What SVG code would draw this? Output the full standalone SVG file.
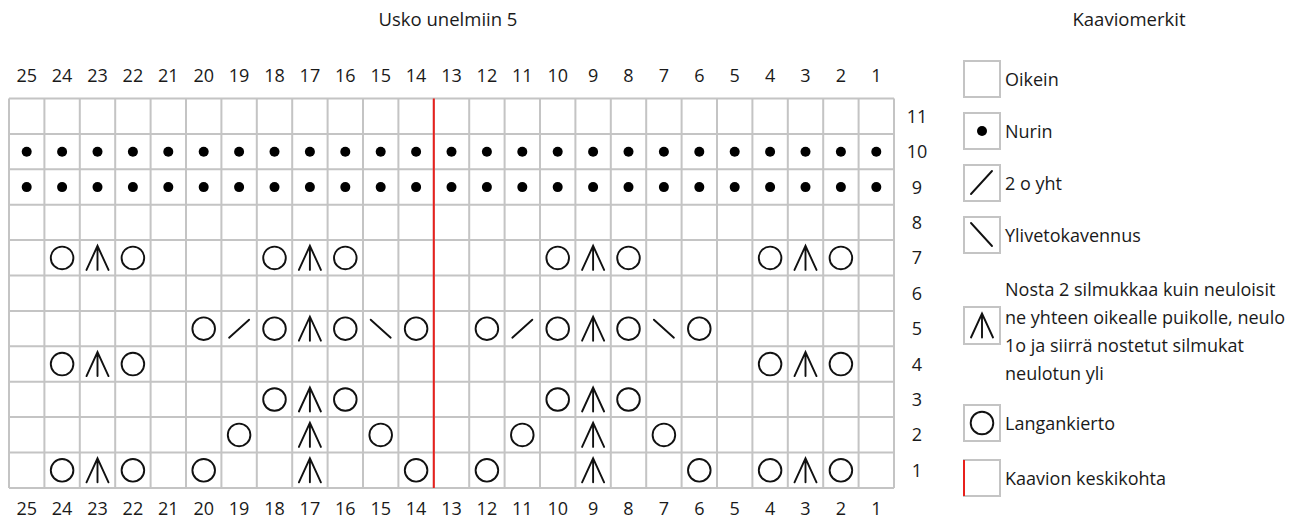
<svg xmlns="http://www.w3.org/2000/svg" xmlns:xlink="http://www.w3.org/1999/xlink" width="1308" height="519" viewBox="0 0 1308 519">
<style>
text{font-family:"Open Sans","Noto Sans","Liberation Sans",sans-serif;font-size:18px;fill:#1a1a1a}
.c{text-anchor:middle}
.t{font-size:18.5px}
.g{stroke:#c4c4c4;stroke-width:2;fill:none}
.s{stroke:#111;stroke-width:1.9;fill:none;stroke-linecap:round}
.red{stroke:#e8201c;stroke-width:2}
</style>
<defs>
<g id="o"><circle class="s" cx="0" cy="0" r="11.3"/></g>
<g id="a"><path class="s" d="M-11,12 L0,-12 L11,12 M0,-12 L0,12"/></g>
<g id="d"><circle cx="0" cy="0" r="5" fill="#000"/></g>
<g id="k"><path class="s" d="M-10,9 L10,-9"/></g>
<g id="y"><path class="s" d="M-10,-9 L10,9"/></g>
</defs>
<g id="titles">
<text class="c t" x="448" y="26">Usko unelmiin 5</text>
<text class="c t" x="1129" y="26">Kaaviomerkit</text>
</g>
<g id="grid">
<path class="g" d="M9,98.5V488M44.4,98.5V488M79.8,98.5V488M115.2,98.5V488M150.6,98.5V488M186,98.5V488M221.4,98.5V488M256.8,98.5V488M292.2,98.5V488M327.6,98.5V488M363,98.5V488M398.4,98.5V488M433.8,98.5V488M469.2,98.5V488M504.6,98.5V488M540,98.5V488M575.4,98.5V488M610.8,98.5V488M646.2,98.5V488M681.6,98.5V488M717,98.5V488M752.4,98.5V488M787.8,98.5V488M823.2,98.5V488M858.6,98.5V488M894,98.5V488"/>
<path class="g" d="M9,98.5H894M9,133.9H894M9,169.3H894M9,204.7H894M9,240.1H894M9,275.5H894M9,310.9H894M9,346.3H894M9,381.7H894M9,417.1H894M9,452.5H894M9,487.9H894"/>
<line class="red" x1="433.8" y1="98.5" x2="433.8" y2="488"/>
</g>
<g id="colnums-top">
<text class="c" x="26.7" y="81.5">25</text><text class="c" x="62.1" y="81.5">24</text><text class="c" x="97.5" y="81.5">23</text><text class="c" x="132.9" y="81.5">22</text><text class="c" x="168.3" y="81.5">21</text><text class="c" x="203.7" y="81.5">20</text><text class="c" x="239.1" y="81.5">19</text><text class="c" x="274.5" y="81.5">18</text><text class="c" x="309.9" y="81.5">17</text><text class="c" x="345.3" y="81.5">16</text><text class="c" x="380.7" y="81.5">15</text><text class="c" x="416.1" y="81.5">14</text><text class="c" x="451.5" y="81.5">13</text><text class="c" x="486.9" y="81.5">12</text><text class="c" x="522.3" y="81.5">11</text><text class="c" x="557.7" y="81.5">10</text><text class="c" x="593.1" y="81.5">9</text><text class="c" x="628.5" y="81.5">8</text><text class="c" x="663.9" y="81.5">7</text><text class="c" x="699.3" y="81.5">6</text><text class="c" x="734.7" y="81.5">5</text><text class="c" x="770.1" y="81.5">4</text><text class="c" x="805.5" y="81.5">3</text><text class="c" x="840.9" y="81.5">2</text><text class="c" x="876.3" y="81.5">1</text>
</g>
<g id="colnums-bottom">
<text class="c" x="26.7" y="514.5">25</text><text class="c" x="62.1" y="514.5">24</text><text class="c" x="97.5" y="514.5">23</text><text class="c" x="132.9" y="514.5">22</text><text class="c" x="168.3" y="514.5">21</text><text class="c" x="203.7" y="514.5">20</text><text class="c" x="239.1" y="514.5">19</text><text class="c" x="274.5" y="514.5">18</text><text class="c" x="309.9" y="514.5">17</text><text class="c" x="345.3" y="514.5">16</text><text class="c" x="380.7" y="514.5">15</text><text class="c" x="416.1" y="514.5">14</text><text class="c" x="451.5" y="514.5">13</text><text class="c" x="486.9" y="514.5">12</text><text class="c" x="522.3" y="514.5">11</text><text class="c" x="557.7" y="514.5">10</text><text class="c" x="593.1" y="514.5">9</text><text class="c" x="628.5" y="514.5">8</text><text class="c" x="663.9" y="514.5">7</text><text class="c" x="699.3" y="514.5">6</text><text class="c" x="734.7" y="514.5">5</text><text class="c" x="770.1" y="514.5">4</text><text class="c" x="805.5" y="514.5">3</text><text class="c" x="840.9" y="514.5">2</text><text class="c" x="876.3" y="514.5">1</text>
</g>
<g id="rownums">
<text class="c" x="917" y="476.8">1</text><text class="c" x="917" y="441.4">2</text><text class="c" x="917" y="406">3</text><text class="c" x="917" y="370.6">4</text><text class="c" x="917" y="335.2">5</text><text class="c" x="917" y="299.8">6</text><text class="c" x="917" y="264.4">7</text><text class="c" x="917" y="229">8</text><text class="c" x="917" y="193.6">9</text><text class="c" x="917" y="158.2">10</text><text class="c" x="917" y="122.8">11</text>
</g>
<g id="row10">
<use href="#d" x="26.7" y="151.7"/><use href="#d" x="62.1" y="151.7"/><use href="#d" x="97.5" y="151.7"/><use href="#d" x="132.9" y="151.7"/><use href="#d" x="168.3" y="151.7"/><use href="#d" x="203.7" y="151.7"/><use href="#d" x="239.1" y="151.7"/><use href="#d" x="274.5" y="151.7"/><use href="#d" x="309.9" y="151.7"/><use href="#d" x="345.3" y="151.7"/><use href="#d" x="380.7" y="151.7"/><use href="#d" x="416.1" y="151.7"/><use href="#d" x="451.5" y="151.7"/><use href="#d" x="486.9" y="151.7"/><use href="#d" x="522.3" y="151.7"/><use href="#d" x="557.7" y="151.7"/><use href="#d" x="593.1" y="151.7"/><use href="#d" x="628.5" y="151.7"/><use href="#d" x="663.9" y="151.7"/><use href="#d" x="699.3" y="151.7"/><use href="#d" x="734.7" y="151.7"/><use href="#d" x="770.1" y="151.7"/><use href="#d" x="805.5" y="151.7"/><use href="#d" x="840.9" y="151.7"/><use href="#d" x="876.3" y="151.7"/>
</g>
<g id="row9">
<use href="#d" x="26.7" y="187.1"/><use href="#d" x="62.1" y="187.1"/><use href="#d" x="97.5" y="187.1"/><use href="#d" x="132.9" y="187.1"/><use href="#d" x="168.3" y="187.1"/><use href="#d" x="203.7" y="187.1"/><use href="#d" x="239.1" y="187.1"/><use href="#d" x="274.5" y="187.1"/><use href="#d" x="309.9" y="187.1"/><use href="#d" x="345.3" y="187.1"/><use href="#d" x="380.7" y="187.1"/><use href="#d" x="416.1" y="187.1"/><use href="#d" x="451.5" y="187.1"/><use href="#d" x="486.9" y="187.1"/><use href="#d" x="522.3" y="187.1"/><use href="#d" x="557.7" y="187.1"/><use href="#d" x="593.1" y="187.1"/><use href="#d" x="628.5" y="187.1"/><use href="#d" x="663.9" y="187.1"/><use href="#d" x="699.3" y="187.1"/><use href="#d" x="734.7" y="187.1"/><use href="#d" x="770.1" y="187.1"/><use href="#d" x="805.5" y="187.1"/><use href="#d" x="840.9" y="187.1"/><use href="#d" x="876.3" y="187.1"/>
</g>
<g id="row7">
<use href="#o" x="62.1" y="257.9"/><use href="#a" x="97.5" y="257.9"/><use href="#o" x="132.9" y="257.9"/>
<use href="#o" x="274.5" y="257.9"/><use href="#a" x="309.9" y="257.9"/><use href="#o" x="345.3" y="257.9"/>
<use href="#o" x="557.7" y="257.9"/><use href="#a" x="593.1" y="257.9"/><use href="#o" x="628.5" y="257.9"/>
<use href="#o" x="770.1" y="257.9"/><use href="#a" x="805.5" y="257.9"/><use href="#o" x="840.9" y="257.9"/>
</g>
<g id="row5">
<use href="#o" x="203.7" y="328.7"/><use href="#k" x="239.1" y="328.7"/><use href="#o" x="274.5" y="328.7"/><use href="#a" x="309.9" y="328.7"/><use href="#o" x="345.3" y="328.7"/><use href="#y" x="380.7" y="328.7"/><use href="#o" x="416.1" y="328.7"/>
<use href="#o" x="486.9" y="328.7"/><use href="#k" x="522.3" y="328.7"/><use href="#o" x="557.7" y="328.7"/><use href="#a" x="593.1" y="328.7"/><use href="#o" x="628.5" y="328.7"/><use href="#y" x="663.9" y="328.7"/><use href="#o" x="699.3" y="328.7"/>
</g>
<g id="row4">
<use href="#o" x="62.1" y="364.1"/><use href="#a" x="97.5" y="364.1"/><use href="#o" x="132.9" y="364.1"/>
<use href="#o" x="770.1" y="364.1"/><use href="#a" x="805.5" y="364.1"/><use href="#o" x="840.9" y="364.1"/>
</g>
<g id="row3">
<use href="#o" x="274.5" y="399.5"/><use href="#a" x="309.9" y="399.5"/><use href="#o" x="345.3" y="399.5"/>
<use href="#o" x="557.7" y="399.5"/><use href="#a" x="593.1" y="399.5"/><use href="#o" x="628.5" y="399.5"/>
</g>
<g id="row2">
<use href="#o" x="239.1" y="434.9"/><use href="#a" x="309.9" y="434.9"/><use href="#o" x="380.7" y="434.9"/>
<use href="#o" x="522.3" y="434.9"/><use href="#a" x="593.1" y="434.9"/><use href="#o" x="663.9" y="434.9"/>
</g>
<g id="row1">
<use href="#o" x="62.1" y="470.3"/><use href="#a" x="97.5" y="470.3"/><use href="#o" x="132.9" y="470.3"/><use href="#o" x="203.7" y="470.3"/><use href="#a" x="309.9" y="470.3"/><use href="#o" x="416.1" y="470.3"/>
<use href="#o" x="486.9" y="470.3"/><use href="#a" x="593.1" y="470.3"/><use href="#o" x="699.3" y="470.3"/><use href="#o" x="770.1" y="470.3"/><use href="#a" x="805.5" y="470.3"/><use href="#o" x="840.9" y="470.3"/>
</g>
<g id="legend-oikein">
<rect class="g" x="964" y="61" width="36" height="36"/>
<text x="1005" y="85.5">Oikein</text>
</g>
<g id="legend-nurin">
<rect class="g" x="964" y="113" width="36" height="36"/>
<use href="#d" x="982" y="131"/>
<text x="1005" y="137.5">Nurin</text>
</g>
<g id="legend-2oyht">
<rect class="g" x="964" y="165" width="36" height="36"/>
<path class="s" d="M971,194 L992,171"/>
<text x="1005" y="189.5">2 o yht</text>
</g>
<g id="legend-ylivetokavennus">
<rect class="g" x="964" y="217" width="36" height="36"/>
<path class="s" d="M971,223 L992,246"/>
<text x="1005" y="241.5">Ylivetokavennus</text>
</g>
<g id="legend-nosta">
<rect class="g" x="964" y="307" width="36" height="37"/>
<use href="#a" x="982" y="325.5"/>
<text x="1005" y="295.5">Nosta 2 silmukkaa kuin neuloisit</text>
<text x="1005" y="323.5">ne yhteen oikealle puikolle, neulo</text>
<text x="1005" y="351.5">1o ja siirrä nostetut silmukat</text>
<text x="1005" y="379.5">neulotun yli</text>
</g>
<g id="legend-langankierto">
<rect class="g" x="964" y="405" width="36" height="36"/>
<use href="#o" x="982" y="423"/>
<text x="1005" y="429.5">Langankierto</text>
</g>
<g id="legend-keskikohta">
<rect class="g" x="964" y="460" width="36" height="36"/>
<line class="red" x1="964" y1="460" x2="964" y2="496"/>
<text x="1005" y="484.5">Kaavion keskikohta</text>
</g>
</svg>
